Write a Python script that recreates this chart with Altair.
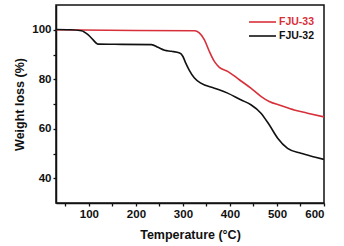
import altair as alt
import pandas as pd

series = ["FJU-33", "FJU-32"]
colors = ["#d8303a", "#111111"]

t32 = [30, 60, 84, 98, 108.5, 119, 170, 233, 247, 261, 275.5, 293, 300, 306, 313, 324, 338, 367, 395, 423, 444.5, 466, 483.5, 501.5, 522.5, 551, 579.5, 600]
w32 = [100.1, 100.0, 99.6, 98.0, 96.0, 94.2, 94.1, 94.0, 92.9, 91.7, 91.3, 90.6, 89.2, 86.5, 83.8, 80.6, 78.4, 76.4, 74.4, 71.7, 69.7, 66.3, 61.6, 56.2, 52.1, 50.1, 48.6, 47.6]

t33 = [30, 200, 325, 334.7, 345.4, 356, 366.8, 377.4, 395, 420, 444.5, 465.8, 483.5, 508, 536.6, 565, 600]
w33 = [100.0, 99.7, 99.6, 98.7, 96.0, 91.3, 87.2, 84.8, 83.2, 79.8, 76.4, 73.1, 71.0, 69.4, 67.6, 66.3, 64.8]

x_ticks = [50, 100, 150, 200, 250, 300, 350, 400, 450, 500, 550, 600]
y_ticks = [40, 50, 60, 70, 80, 90, 100]

rows = []
for t, w in zip(t33, w33):
    rows.append({"T": t, "W": w, "s": series[0]})
for t, w in zip(t32, w32):
    rows.append({"T": t, "W": w, "s": series[1]})
df = pd.DataFrame(rows)

FONT = "Liberation Sans"

lines = alt.Chart(df).mark_line(strokeWidth=1.6, interpolate="monotone", clip=True).encode(
    x=alt.X("T:Q", scale=alt.Scale(domain=[30, 600], nice=False, zero=False),
            axis=alt.Axis(title="Temperature (°C)", values=x_ticks,
                          labelExpr="datum.value % 100 === 0 ? datum.label : ''",
                          grid=False, tickSize=3, labelPadding=2, titlePadding=9)),
    y=alt.Y("W:Q", scale=alt.Scale(domain=[30, 110], nice=False, zero=False),
            axis=alt.Axis(title="Weight loss (%)", values=y_ticks,
                          labelExpr="datum.value % 20 === 0 ? datum.label : ''",
                          grid=False, tickSize=3, labelPadding=2, titlePadding=5)),
    color=alt.Color("s:N", scale=alt.Scale(domain=series, range=colors), legend=None),
    detail="s:N",
)

leg_layers = []
leg_y = [22, 36]
for name, col, yy in zip(series, colors, leg_y):
    ld = pd.DataFrame({"s": [name]})
    rule = alt.Chart(ld).mark_rule(color=col, strokeWidth=1.6).encode(
        x=alt.value(193), x2=alt.value(220), y=alt.value(yy - 5)
    )
    txt = alt.Chart(ld).mark_text(color=col, align="left", baseline="middle",
                                  font=FONT, fontWeight="bold", fontSize=10.5).encode(
        x=alt.value(223), y=alt.value(yy - 5), text="s:N"
    )
    leg_layers += [rule, txt]

chart = alt.layer(lines, *leg_layers).properties(
    width=268, height=198,
    autosize=alt.AutoSizeParams(type="none"),
    padding={"left": 56, "top": 5, "right": 20, "bottom": 43},
).configure_view(
    stroke="#111111", strokeWidth=1.5
).configure_axis(
    domainColor="#111111", domainWidth=1.5, tickColor="#111111", tickWidth=1.3,
    labelFont=FONT, labelFontWeight="bold", labelFontSize=11.5, labelColor="#111111",
    titleFont=FONT, titleFontWeight="bold", titleFontSize=12.5, titleColor="#111111",
)

chart.save("out.html", embed_options={"renderer": "svg", "actions": False})
